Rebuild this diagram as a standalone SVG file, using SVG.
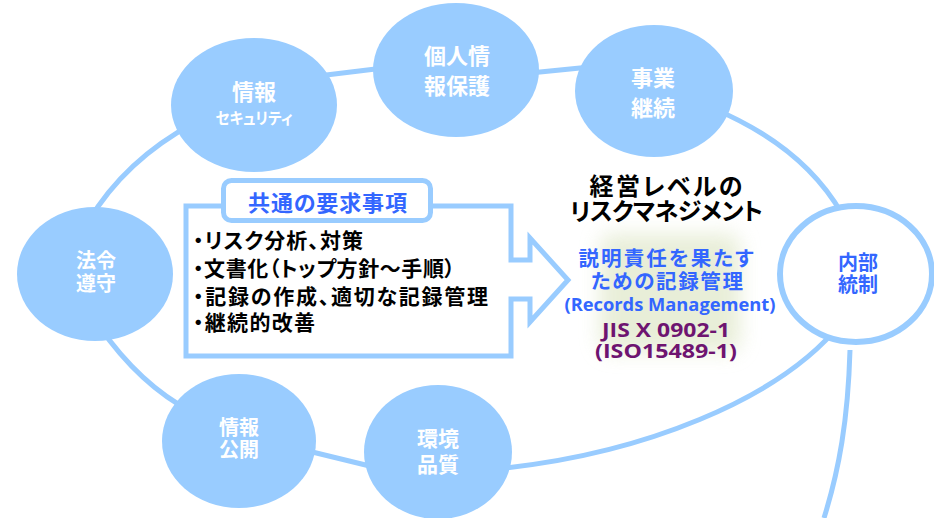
<svg xmlns="http://www.w3.org/2000/svg" width="934" height="518" viewBox="0 0 934 518">
<defs>
<style>
.node{fill:#99CCFF}
.ring{fill:#FFFFFF;stroke:#99CCFF;stroke-width:6}
.link{fill:none;stroke:#99CCFF;stroke-width:5}
.jp{font-family:"Noto Sans CJK JP","Noto Sans CJK SC",sans-serif;font-weight:700;font-feature-settings:"palt"}
.lat{font-family:"Open Sans","Noto Sans",sans-serif;font-weight:700}
.wt{fill:#FFFFFF;font-size:21px;text-anchor:middle}
.bt{fill:#3366FF;text-anchor:middle}
.bk{fill:#000000}
.pu{fill:#6E1470;text-anchor:middle;font-size:20px}
.frame{fill:#FFFFFF;stroke:#99CCFF;stroke-width:5}
</style>
<filter id="glow" x="-40%" y="-40%" width="180%" height="180%"><feGaussianBlur stdDeviation="10"/></filter>
</defs>
<rect width="934" height="518" fill="#FFFFFF"/>

<g id="connectors">
<path class="link" d="M318,76 L392,67"/>
<path class="link" d="M520,74 L600,66"/>
<path class="link" d="M712,108 Q803,146 842,214"/>
<path class="link" d="M842,322 C780,400 640,455 495,469"/>
<path class="link" d="M300,449 L382,469"/>
<path class="link" d="M192,412 Q140,385 99,326"/>
<path class="link" d="M88,222 Q125,160 194,123"/>
<path class="link" d="M850,350 C848,420 839,470 824,518"/>
</g>

<g id="node-security">
<ellipse class="node" cx="254" cy="105" rx="83" ry="67"/>
<text class="jp wt" x="254" y="100" style="font-size:22px">情報<tspan x="254" y="124" style="font-size:16px" textLength="77" lengthAdjust="spacingAndGlyphs">セキュリティ</tspan></text>
</g>

<g id="node-privacy">
<ellipse class="node" cx="456" cy="70" rx="83" ry="67"/>
<text class="jp wt" x="457" y="63.5" style="font-size:22px">個人情<tspan x="457" y="93.5">報保護</tspan></text>
</g>

<g id="node-continuity">
<ellipse class="node" cx="654" cy="91" rx="79" ry="66"/>
<text class="jp wt" x="653" y="85.5" style="font-size:22px">事業<tspan x="653" y="115.5">継続</tspan></text>
</g>

<g id="node-compliance">
<ellipse class="node" cx="95" cy="274" rx="78" ry="67"/>
<text class="jp wt" x="96" y="268" style="font-size:20px">法令<tspan x="96" y="291">遵守</tspan></text>
</g>

<g id="node-internal-control">
<ellipse class="ring" cx="856" cy="274" rx="76" ry="68"/>
<text class="jp bt" x="858" y="270" style="font-size:20px">内部<tspan x="858" y="292">統制</tspan></text>
</g>

<g id="node-disclosure">
<ellipse class="node" cx="239" cy="441" rx="77" ry="67"/>
<text class="jp wt" x="239" y="435" style="font-size:20px">情報<tspan x="239" y="457">公開</tspan></text>
</g>

<g id="node-environment">
<ellipse class="node" cx="438" cy="452" rx="74" ry="67"/>
<text class="jp wt" x="438" y="445.5" style="font-size:21px">環境<tspan x="438" y="471.5">品質</tspan></text>
</g>

<g id="requirements">
<path class="frame" d="M186,206 H511 V260 H530 V238 L568,280 L530,322 V299 H511 V356 H186 Z"/>
<rect class="frame" x="223.5" y="180.5" width="207" height="40" rx="8"/>
<text class="jp bt" x="327.5" y="210.5" style="font-size:22px" textLength="159" lengthAdjust="spacing">共通の要求事項</text>
<text class="jp bk" style="font-size:21px"><tspan x="193" y="247.5" textLength="170" lengthAdjust="spacing">・リスク分析、対策</tspan><tspan x="193" y="275.5" textLength="262" lengthAdjust="spacing">・文書化（トップ方針～手順）</tspan><tspan x="193" y="303.5" textLength="295" lengthAdjust="spacing">・記録の作成、適切な記録管理</tspan><tspan x="193" y="330" textLength="122" lengthAdjust="spacing">・継続的改善</tspan></text>
</g>

<g id="center">
<rect x="600" y="234" width="140" height="118" rx="12" fill="#E3EACF" opacity="0.8" filter="url(#glow)"/>
<text class="jp bk" style="font-size:24px;text-anchor:middle"><tspan x="666" y="195" textLength="153" lengthAdjust="spacing">経営レベルの</tspan><tspan x="666.5" y="220" textLength="193" lengthAdjust="spacing">リスクマネジメント</tspan></text>
<text class="jp bt" style="font-size:20.5px"><tspan x="666" y="266" textLength="175" lengthAdjust="spacing">説明責任を果たす</tspan><tspan x="667" y="288.5" textLength="152" lengthAdjust="spacing">ための記録管理</tspan></text>
<text class="lat bt" x="670" y="311" style="font-size:18px" textLength="211" lengthAdjust="spacingAndGlyphs">(Records Management)</text>
<text class="lat pu"><tspan x="666" y="337" textLength="128" lengthAdjust="spacingAndGlyphs">JIS X 0902-1</tspan><tspan x="666" y="357.5" textLength="142" lengthAdjust="spacingAndGlyphs">(ISO15489-1)</tspan></text>
</g>
</svg>
